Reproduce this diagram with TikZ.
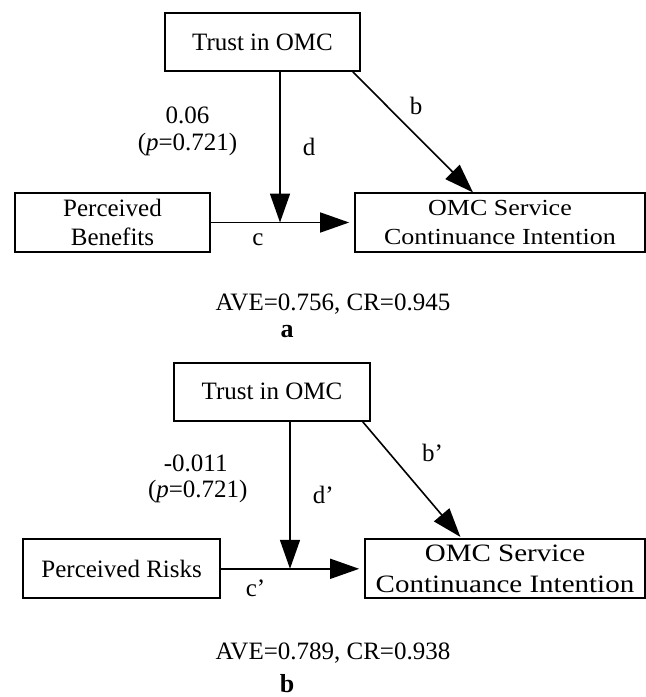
\documentclass[tikz,border=0pt]{standalone}
\usepackage{fontspec}
\setmainfont{Liberation Serif}
\usetikzlibrary{arrows.meta}
\begin{document}
\begin{tikzpicture}[x=0.5pt,y=-0.5pt,
  box/.style={draw,line width=0.85pt,inner sep=0pt,align=center,
    font=\fontsize{12.5}{14.5}\selectfont},
  lbl/.style={inner sep=0pt,font=\fontsize{12.5}{14.5}\selectfont},
  arr/.style={line width=0.8pt,-{Triangle[length=14.5pt,width=10pt]}},
  subcap/.style={inner sep=0pt,font=\fontsize{13}{15}\selectfont\bfseries}]
\useasboundingbox (0,0) rectangle (646,697);

% ---- panel a ----
\node[box,minimum width=97.5pt,minimum height=29.15pt] (trustA) at (262.5,41.85) {Trust in OMC};
\node[box,minimum width=97.5pt,minimum height=29.2pt] (pbA) at (112.5,222.5) {Perceived\\Benefits};
\node[box,minimum width=145pt,minimum height=29.2pt,
  font=\fontsize{11.5}{14.5}\selectfont] (omcA) at (500,222.5)
  {\scalebox{1.13}[1]{OMC Service}\\\scalebox{1.13}[1]{Continuance Intention}};
\coordinate (ja) at (280,222.5);
\draw[arr] (trustA.south -| ja) -- (ja);
\draw[arr,shorten >=2.5pt] (pbA.east) -- (omcA.west);
\draw[arr] ([xshift=-4pt]trustA.south east) -- ([xshift=-13.5pt]omcA.north);
\node[lbl] (wA) at (187.5,115) {0.06};
\node[lbl] (pA) at (187.5,144) {(\textit{p}=0.721)};
\node[lbl] (dA) at (309,146.7) {d};
\node[lbl] (bA) at (416,106) {b};
\node[lbl] (cA) at (258,240) {c};
\node[lbl] (aveA) at (333,304) {AVE=0.756, CR=0.945};
\node[subcap] (capA) at (287,331.7) {a};

% ---- panel b ----
\node[box,minimum width=98pt,minimum height=29pt] (trustB) at (272,391.7) {Trust in OMC};
\node[box,minimum width=98.35pt,minimum height=29.5pt] (prB) at (121.65,568.8) {Perceived Risks};
\node[box,minimum width=140pt,minimum height=29.5pt,
  font=\fontsize{12.5}{15.8}\selectfont] (omcB) at (505,568.8)
  {\scalebox{1.16}[1]{OMC Service}\\\scalebox{1.16}[1]{Continuance Intention}};
\coordinate (jb) at (290,568.8);
\draw[arr] (trustB.south -| jb) -- (jb);
\draw[arr,shorten >=2.5pt] (prB.east) -- (omcB.west);
\draw[arr,shorten >=1pt] ([xshift=-4.15pt]trustB.south east) -- ([xshift=-21.65pt]omcB.north);
\node[lbl] (wB) at (195.7,463.3) {-0.011};
\node[lbl] (pB) at (197.8,491.7) {(\textit{p}=0.721)};
\node[lbl] (dB) at (323.4,495) {d’};
\node[lbl] (bB) at (432.6,453.3) {b’};
\node[lbl] (cB) at (255.5,588.3) {c’};
\node[lbl] (aveB) at (333,653.3) {AVE=0.789, CR=0.938};
\node[subcap] (capB) at (287.2,683.3) {b};
\end{tikzpicture}
\end{document}
